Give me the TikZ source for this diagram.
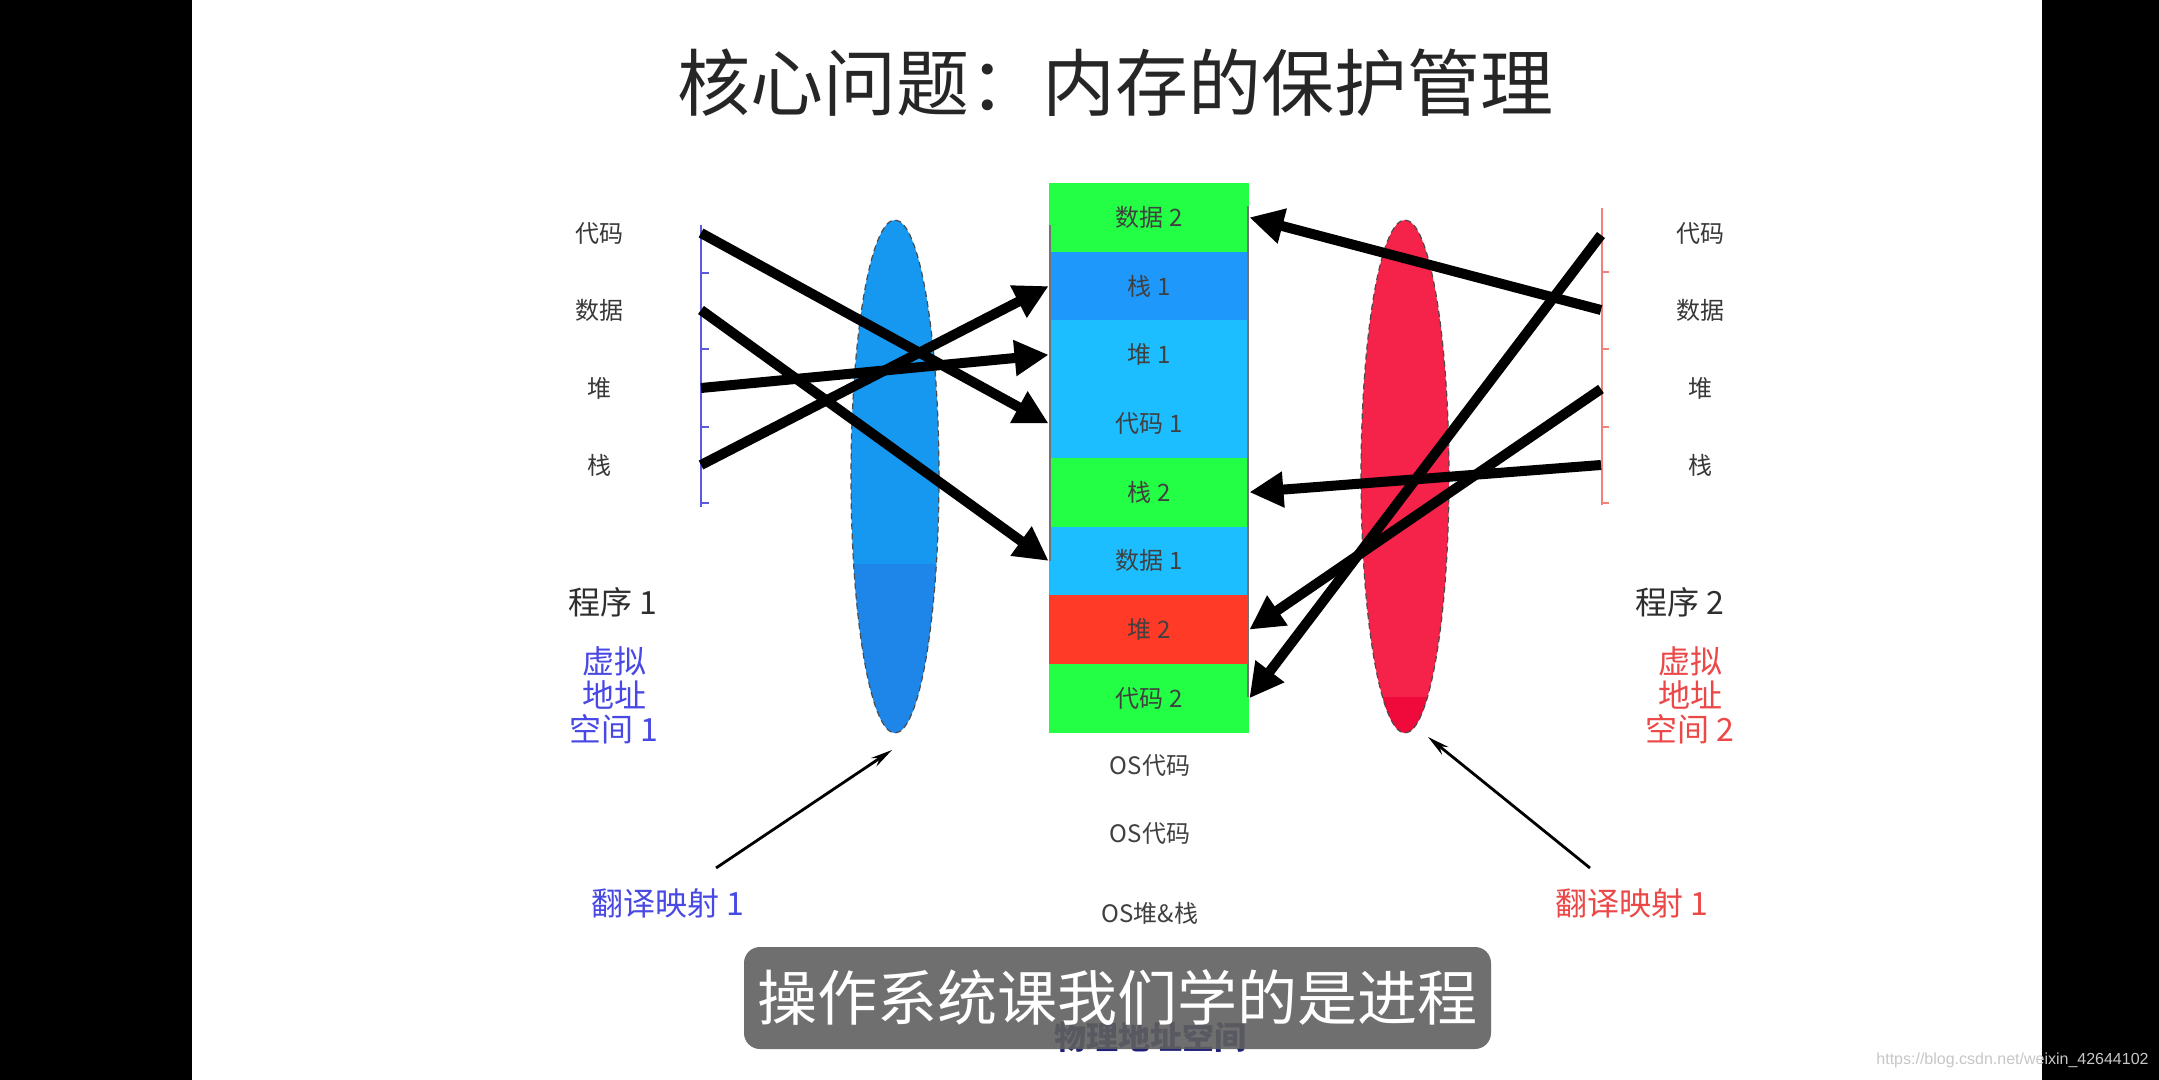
\documentclass[tikz,border=0pt]{standalone}
\usepackage{fontspec}
\setmainfont{Noto Sans CJK SC}
\newfontfamily\wmfont{Liberation Sans}
\usetikzlibrary{arrows.meta,shapes.geometric,calc}
\definecolor{memgreen}{RGB}{34,255,68}
\definecolor{memblue}{RGB}{30,152,250}
\definecolor{memcyan}{RGB}{28,190,255}
\definecolor{memred}{RGB}{255,58,38}
\definecolor{lensblueA}{RGB}{22,152,240}
\definecolor{lensblueB}{RGB}{30,134,232}
\definecolor{lensredA}{RGB}{245,34,74}
\definecolor{lensredB}{RGB}{240,10,60}
\definecolor{vablue}{RGB}{72,72,228}
\definecolor{vared}{RGB}{236,72,72}
\definecolor{axisblue}{RGB}{90,90,220}
\definecolor{axisred}{RGB}{240,130,120}
\definecolor{subgray}{RGB}{96,96,96}
\definecolor{navyc}{RGB}{30,30,120}
\begin{document}
\begin{tikzpicture}[x=0.5pt,y=-0.5pt,
  cell/.style={rectangle, inner sep=0pt, minimum width=100pt, minimum height=34.35pt,
    font=\fontsize{12}{14}\selectfont, text=black!75},
  vlabel/.style={font=\fontsize{12}{14}\selectfont, text=black!78},
  oslabel/.style={font=\fontsize{12}{14}\selectfont, text=black!75},
  proglabel/.style={font=\fontsize{16}{18}\selectfont, text=black!82},
  vaspace/.style={font=\fontsize{16}{17}\selectfont, align=center},
  bigarrow/.style={line width=5pt, -{Triangle[length=17pt,width=17pt]}},
  thinarrow/.style={line width=1.4pt, -{Stealth[length=11pt,width=5pt]}},
  lens/.style={ellipse, inner sep=0pt, minimum width=44pt, minimum height=256.5pt,
    draw=black!70, line width=0.6pt, dash pattern=on 3pt off 2pt},
  axisline/.style={line width=1pt}]
\useasboundingbox (0,0) rectangle (2159,1080);
% background
\fill[black] (0,0) rectangle (2159,1080);
\fill[white] (192,0) rectangle (2042,1080);

% title
\node[font=\fontsize{36.5}{40}\selectfont, text=black!85] (title) at (1115,83) {核心问题：内存的保护管理};

% lenses
\node[lens, fill=lensblueA, path picture={\fill[lensblueB] ($(path picture bounding box.north west)!0.67!(path picture bounding box.south west)$) rectangle (path picture bounding box.south east);}] (lens1) at (895,476.5) {};
\node[lens, fill=lensredA, path picture={\fill[lensredB] ($(path picture bounding box.north west)!0.93!(path picture bounding box.south west)$) rectangle (path picture bounding box.south east);}] (lens2) at (1405,476.5) {};

% memory column
\node[cell, fill=memgreen] (d2) at (1149,217.4) {数据 2};
\node[cell, fill=memblue]  (s1) at (1149,286.1) {栈 1};
\node[cell, fill=memcyan]  (h1) at (1149,354.8) {堆 1};
\node[cell, fill=memcyan]  (c1) at (1149,423.5) {代码 1};
\node[cell, fill=memgreen] (s2) at (1149,492.2) {栈 2};
\node[cell, fill=memcyan]  (da1) at (1149,560.9) {数据 1};
\node[cell, fill=memred]   (h2) at (1149,629.6) {堆 2};
\node[cell, fill=memgreen] (c2) at (1149,698.3) {代码 2};
\draw[black!55, line width=0.7pt] (1050,225) -- (1050,561);
\draw[black!55, line width=0.7pt] (1248,206) -- (1248,697);

% OS labels
\node[oslabel] (os1) at (1150,766) {OS代码};
\node[oslabel] (os2) at (1150,834) {OS代码};
\node[oslabel] (os3) at (1150,913) {OS堆\&栈};

% left virtual address space
\draw[axisblue, axisline] (701,225) -- (701,507);
\foreach \yy in {273,349,427,503} \draw[axisblue, axisline] (701,\yy) -- (709,\yy);
\node[vlabel] (lcode) at (599,234) {代码};
\node[vlabel] (ldata) at (599,310) {数据};
\node[vlabel] (lheap) at (599,388) {堆};
\node[vlabel] (lstack) at (599,465) {栈};
\coordinate (Lcode) at (701,233);
\coordinate (Ldata) at (701,310);
\coordinate (Lheap) at (701,388);
\coordinate (Lstack) at (701,465);

% right virtual address space
\draw[axisred, axisline] (1602,208) -- (1602,505);
\foreach \yy in {272,349,427,503} \draw[axisred, axisline] (1602,\yy) -- (1609,\yy);
\node[vlabel] (rcode) at (1700,234) {代码};
\node[vlabel] (rdata) at (1700,310) {数据};
\node[vlabel] (rheap) at (1700,388) {堆};
\node[vlabel] (rstack) at (1700,465) {栈};
\coordinate (Rcode) at (1601,235);
\coordinate (Rdata) at (1601,310);
\coordinate (Rheap) at (1601,389);
\coordinate (Rstack) at (1601,465);

% mapping arrows
\draw[bigarrow] (Lcode) -- (c1.west);
\draw[bigarrow] (Ldata) -- (da1.west);
\draw[bigarrow] (Lheap) -- (h1.west);
\draw[bigarrow] (Lstack) -- (s1.west);
\draw[bigarrow] (Rcode) -- (c2.east);
\draw[bigarrow] (Rdata) -- (d2.east);
\draw[bigarrow] (Rheap) -- (h2.east);
\draw[bigarrow] (Rstack) -- (s2.east);

% program labels
\node[proglabel] (p1) at (613,602) {程序 1};
\node[vaspace, text=vablue] (va1) at (614,695) {虚拟\\地址\\空间 1};
\node[proglabel] (p2) at (1680,602) {程序 2};
\node[vaspace, text=vared] (va2) at (1690,695) {虚拟\\地址\\空间 2};

% translation labels and arrows
\node[vaspace, text=vablue] (tr1) at (668,903) {翻译映射 1};
\node[vaspace, text=vared] (tr2) at (1632,903) {翻译映射 1};
\coordinate (t1s) at (716,868);
\coordinate (t1e) at (892,750);
\coordinate (t2s) at (1590,868);
\coordinate (t2e) at (1428,737);
\draw[thinarrow] (t1s) -- (t1e);
\draw[thinarrow] (t2s) -- (t2e);

% physical address space label
\node[font=\fontsize{16}{18}\selectfont\bfseries, text=navyc] (phys) at (1150,1037) {物理地址空间};

% subtitle overlay
\node[fill=subgray, fill opacity=0.9, text opacity=1, rounded corners=8pt, inner sep=0pt,
  minimum width=373.5pt, minimum height=51pt, text=white,
  font=\fontsize{30}{34}\selectfont] (sub) at (1117.5,998) {操作系统课我们学的是进程};

% watermark
\node[anchor=east, text=black!22, font=\wmfont\fontsize{8}{10}\selectfont, inner sep=0pt] (wm) at (2149,1060) {https://blog.csdn.net/weixin\_42644102};
\end{tikzpicture}
\end{document}
